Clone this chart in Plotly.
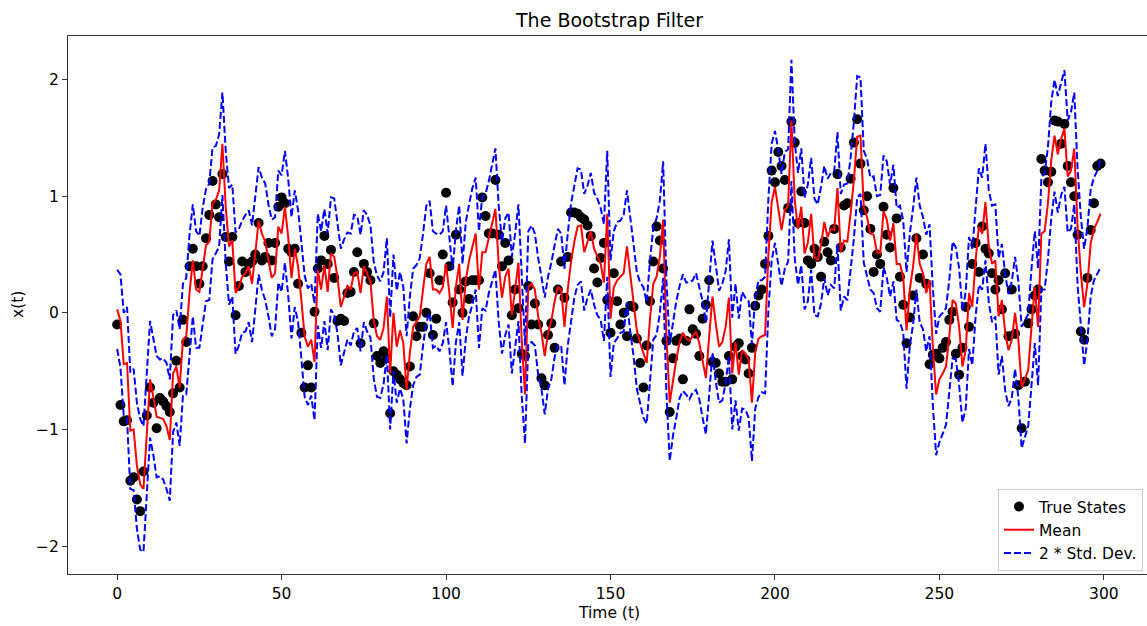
import plotly.graph_objects as go

# ---- data ----
time_steps = list(range(300))

true_states = [
    -0.10, -0.79, -0.93, -0.92, -1.44, -1.41, -1.60, -1.70, -1.36, -0.88,
    -0.64, -0.77, -0.99, -0.73, -0.76, -0.80, -0.85, -0.69, -0.41, -0.64,
    -0.06, -0.25, 0.40, 0.55, 0.40, 0.25, 0.40, 0.64, 0.84, 1.13,
    0.93, 0.82, 1.19, 0.65, 0.44, 0.65, -0.02, 0.23, 0.44, 0.35,
    0.42, 0.44, 0.50, 0.77, 0.45, 0.48, 0.60, 0.45, 0.60, 0.91,
    0.99, 0.94, 0.55, 0.52, 0.55, 0.25, -0.17, -0.64, -0.45, -0.64,
    0.01, 0.38, 0.45, 0.66, 0.42, 0.54, 0.30, -0.07, -0.05, -0.07,
    0.17, 0.18, 0.35, 0.52, -0.26, 0.42, 0.35, 0.28, -0.09, -0.37,
    -0.43, -0.33, -0.39, -0.86, -0.50, -0.53, -0.57, -0.60, -0.62, -0.46,
    -0.03, -0.20, -0.12, -0.12, 0.00, 0.34, -0.19, -0.05, 0.28, 0.50,
    1.03, 0.40, 0.09, 0.67, 0.20, 0.00, 0.27, 0.12, 0.28, 0.28,
    0.28, 0.99, 0.83, 0.68, 0.68, 1.14, 0.67, 0.40, 0.60, 0.45,
    -0.02, 0.20, 0.04, -0.35, -0.37, 0.23, -0.10, 0.08, -0.10, -0.56,
    -0.62, -0.19, -0.09, -0.30, 0.20, 0.44, 0.13, 0.48, 0.86, 0.86,
    0.85, 0.82, 0.80, 0.75, 0.66, 0.38, 0.26, 0.47, 0.60, 0.11,
    -0.17, 0.34, 0.10, -0.10, 0.00, -0.20, 0.06, 0.05, -0.22, -0.43,
    -0.64, -0.28, 0.10, 0.44, 0.74, 0.62, 0.38, -0.24, -0.85, -0.39,
    -0.24, -0.22, -0.57, -0.24, 0.03, -0.14, -0.18, -0.37, -0.05, 0.07,
    0.28, -0.42, -0.43, -0.52, -0.59, -0.59, -0.37, -0.57, -0.29, -0.26,
    -0.37, -0.40, -0.52, -0.30, 0.06, 0.15, 0.20, 0.42, 0.66, 1.22,
    1.12, 1.38, 1.26, 1.14, 0.90, 1.64, 1.46, 0.77, 1.04, 0.77,
    0.45, 0.42, 0.55, 0.48, 0.31, 0.61, 0.52, 0.45, 0.72, 1.19,
    0.56, 0.92, 0.94, 1.15, 1.46, 1.66, 1.28, 0.88, 1.00, 0.72,
    0.35, 0.50, 0.42, 0.91, 0.67, 0.56, 1.07, 0.81, 0.31, 0.07,
    -0.26, -0.04, 0.15, 0.64, 0.30, 0.50, 0.25, -0.44, -0.36, -0.35,
    -0.39, -0.30, -0.25, -0.06, 0.01, -0.35, -0.53, -0.30, 0.05, -0.12,
    0.42, 0.60, 0.35, 0.74, 0.55, 0.51, 0.34, 0.20, 0.28, 0.03,
    0.34, -0.20, 0.20, -0.18, -0.62, -0.99, -0.59, -0.09, 0.03, 0.15,
    0.20, 1.32, 1.22, 1.12, 1.21, 1.65, 1.64, 1.45, 1.62, 1.26,
    1.12, 1.00, 0.67, -0.16, -0.23, 0.30, 0.71, 0.94, 1.26, 1.28,
]

mean_est = [
    0.03, -0.07, -0.44, -0.43, -1.01, -1.00, -1.31, -1.47, -1.51, -1.05,
    -0.57, -0.72, -0.89, -0.90, -0.91, -0.97, -1.09, -0.52, -0.46, -0.64,
    -0.23, -0.20, 0.17, 0.45, 0.20, 0.18, 0.40, 0.58, 0.61, 0.94,
    0.97, 1.05, 1.45, 0.91, 0.57, 0.62, 0.17, 0.22, 0.31, 0.34,
    0.40, 0.25, 0.51, 0.79, 0.68, 0.61, 0.45, 0.30, 0.34, 0.74,
    0.68, 0.91, 0.65, 0.30, 0.55, 0.40, 0.11, -0.20, -0.29, -0.23,
    -0.42, 0.37, 0.20, 0.41, 0.18, 0.51, 0.48, 0.30, 0.05, 0.15,
    0.23, 0.20, 0.34, 0.35, 0.17, 0.40, 0.34, 0.27, -0.06, -0.20,
    -0.23, -0.13, 0.14, -0.52, 0.00, -0.29, -0.15, -0.26, -0.66, -0.34,
    -0.12, -0.07, -0.03, 0.20, 0.42, 0.48, 0.20, 0.20, 0.17, 0.22,
    0.42, 0.17, -0.13, 0.23, 0.42, -0.06, 0.28, 0.45, 0.57, 0.68,
    0.20, 0.52, 0.52, 0.65, 0.77, 0.89, 0.42, 0.13, 0.31, 0.38,
    -0.02, 0.20, 0.43, -0.23, -0.70, 0.22, 0.25, 0.20, -0.03, -0.17,
    -0.37, -0.17, -0.07, 0.10, 0.22, 0.20, -0.12, 0.20, 0.44, 0.61,
    0.74, 0.75, 0.52, 0.61, 0.70, 0.55, 0.48, 0.42, 0.26, 0.85,
    -0.05, 0.22, 0.28, 0.31, 0.34, 0.57, 0.34, 0.11, -0.15, -0.26,
    -0.34, -0.43, -0.05, 0.25, 0.31, 0.48, 0.80, -0.20, -0.77, -0.57,
    -0.40, -0.25, -0.17, -0.22, -0.24, -0.20, -0.16, -0.26, -0.40, -0.56,
    -0.20, 0.14, -0.09, -0.29, -0.25, -0.12, 0.13, -0.52, -0.25, -0.53,
    -0.32, -0.35, -0.40, -0.77, -0.34, -0.22, -0.20, -0.19, 0.50, 0.95,
    1.08, 0.90, 0.71, 0.88, 0.92, 1.65, 0.97, 0.72, 0.91, 0.51,
    0.60, 0.85, 0.48, 0.45, 0.58, 0.78, 0.65, 0.72, 0.71, 1.07,
    0.52, 0.62, 0.61, 0.85, 1.14, 1.51, 1.52, 0.91, 0.82, 0.68,
    0.67, 0.52, 0.51, 0.87, 0.80, 0.62, 0.77, 0.42, 0.42, 0.31,
    -0.15, 0.20, 0.40, 0.68, 0.42, 0.34, 0.17, 0.28, -0.29, -0.70,
    -0.57, -0.52, -0.46, -0.20, 0.11, 0.08, -0.12, -0.46, -0.32, 0.17,
    0.05, 0.45, 0.74, 0.68, 0.95, 0.57, 0.42, 0.45, -0.03, 0.11,
    -0.17, -0.32, -0.23, 0.00, -0.23, -0.64, -0.57, -0.49, -0.12, 0.22,
    -0.12, 0.68, 0.70, 0.94, 1.31, 1.52, 1.36, 1.49, 1.58, 1.17,
    1.22, 1.41, 0.74, 0.34, 0.05, 0.25, 0.60, 0.72, 0.78, 0.85,
]

std_dev = [
    0.17, 0.20, 0.22, 0.24, 0.25, 0.26, 0.27, 0.28, 0.27, 0.26,
    0.25, 0.25, 0.26, 0.25, 0.26, 0.27, 0.26, 0.25, 0.24, 0.25,
    0.24, 0.25, 0.25, 0.24, 0.25, 0.24, 0.25, 0.24, 0.25, 0.24,
    0.23, 0.24, 0.22, 0.24, 0.25, 0.24, 0.26, 0.25, 0.24, 0.25,
    0.24, 0.25, 0.24, 0.23, 0.24, 0.25, 0.24, 0.25, 0.24, 0.24,
    0.25, 0.24, 0.25, 0.26, 0.25, 0.24, 0.25, 0.26, 0.25, 0.24,
    0.25, 0.24, 0.25, 0.24, 0.25, 0.24, 0.25, 0.24, 0.25, 0.24,
    0.23, 0.24, 0.25, 0.24, 0.25, 0.24, 0.25, 0.24, 0.25, 0.26,
    0.25, 0.24, 0.25, 0.24, 0.25, 0.24, 0.25, 0.24, 0.23, 0.24,
    0.25, 0.24, 0.25, 0.24, 0.25, 0.24, 0.25, 0.24, 0.25, 0.24,
    0.25, 0.24, 0.25, 0.24, 0.25, 0.24, 0.25, 0.24, 0.25, 0.24,
    0.25, 0.24, 0.25, 0.24, 0.25, 0.26, 0.25, 0.24, 0.25, 0.24,
    0.25, 0.24, 0.25, 0.24, 0.21, 0.24, 0.25, 0.24, 0.25, 0.24,
    0.25, 0.24, 0.25, 0.24, 0.25, 0.24, 0.25, 0.24, 0.25, 0.24,
    0.25, 0.24, 0.25, 0.24, 0.25, 0.24, 0.25, 0.24, 0.25, 0.27,
    0.25, 0.24, 0.25, 0.24, 0.25, 0.24, 0.25, 0.24, 0.25, 0.26,
    0.28, 0.26, 0.25, 0.24, 0.25, 0.24, 0.25, 0.24, 0.25, 0.24,
    0.25, 0.24, 0.25, 0.24, 0.25, 0.24, 0.25, 0.24, 0.25, 0.24,
    0.25, 0.24, 0.25, 0.24, 0.25, 0.24, 0.25, 0.24, 0.25, 0.24,
    0.25, 0.24, 0.25, 0.25, 0.24, 0.25, 0.24, 0.25, 0.24, 0.25,
    0.24, 0.25, 0.24, 0.25, 0.24, 0.26, 0.25, 0.24, 0.25, 0.24,
    0.25, 0.24, 0.25, 0.24, 0.25, 0.24, 0.25, 0.24, 0.25, 0.24,
    0.25, 0.24, 0.25, 0.24, 0.25, 0.26, 0.25, 0.24, 0.25, 0.24,
    0.25, 0.24, 0.25, 0.24, 0.25, 0.24, 0.25, 0.24, 0.25, 0.24,
    0.25, 0.24, 0.25, 0.24, 0.25, 0.24, 0.25, 0.24, 0.25, 0.26,
    0.27, 0.26, 0.25, 0.24, 0.25, 0.24, 0.25, 0.24, 0.25, 0.24,
    0.25, 0.24, 0.25, 0.24, 0.25, 0.24, 0.25, 0.24, 0.25, 0.24,
    0.25, 0.24, 0.25, 0.24, 0.25, 0.26, 0.25, 0.24, 0.25, 0.24,
    0.25, 0.24, 0.25, 0.24, 0.25, 0.24, 0.25, 0.24, 0.25, 0.24,
    0.25, 0.24, 0.25, 0.24, 0.25, 0.24, 0.23, 0.22, 0.22, 0.23,
]

y_tick_vals = [-2, -1, 0, 1, 2]
y_tick_text = ["\u22122", "\u22121", "0", "1", "2"]
x_tick_vals = [0, 50, 100, 150, 200, 250, 300]

upper = [m + 2 * s for m, s in zip(mean_est, std_dev)]
lower = [m - 2 * s for m, s in zip(mean_est, std_dev)]

FONT = "DejaVu Sans"
TICK_SIZE = 15.5
TITLE_SIZE = 19

fig = go.Figure()
fig.add_trace(go.Scatter(
    x=time_steps, y=true_states, mode="markers", name="True States",
    marker=dict(color="black", size=10, line=dict(width=0)),
))
fig.add_trace(go.Scatter(
    x=time_steps, y=mean_est, mode="lines", name="Mean",
    line=dict(color="#ff0000", width=2),
))
fig.add_trace(go.Scatter(
    x=time_steps, y=upper, mode="lines", name="2 * Std. Dev.",
    legendgroup="std", line=dict(color="#0000ff", width=2, dash="7px,3px"),
))
fig.add_trace(go.Scatter(
    x=time_steps, y=lower, mode="lines", name="2 * Std. Dev.",
    legendgroup="std", showlegend=False,
    line=dict(color="#0000ff", width=2, dash="7px,3px"),
))

L, T, B = 68, 36, 52
W, H = 1147, 626
plot_w = W - L
plot_h = H - T - B
px_per_unit = 3.289
x0 = -14.95
x1 = x0 + plot_w / px_per_unit

def px_to_paper_x(px):
    return (px - L) / plot_w

def py_to_paper_y(py):
    return (H - B - py) / plot_h

fig.update_layout(
    width=W, height=H,
    margin=dict(l=L, r=0, t=T, b=B, pad=0),
    paper_bgcolor="white", plot_bgcolor="white",
    font=dict(family=FONT, size=TICK_SIZE, color="black"),
    showlegend=True,
    legend=dict(
        x=px_to_paper_x(1143), y=py_to_paper_y(489),
        xanchor="right", yanchor="top",
        bgcolor="rgba(255,255,255,0.8)", bordercolor="#cccccc", borderwidth=1,
        font=dict(family=FONT, size=TICK_SIZE, color="black"),
        tracegroupgap=0,
    ),
    xaxis=dict(
        range=[x0, x1], tickvals=x_tick_vals, showgrid=False, zeroline=False,
        showline=True, linecolor="#333333", linewidth=1, mirror=True,
        ticks="outside", ticklen=5, tickcolor="#333333",
        tickfont=dict(family=FONT, size=TICK_SIZE, color="black"),
    ),
    yaxis=dict(
        range=[-2.239, 2.374], tickvals=y_tick_vals, ticktext=y_tick_text,
        showgrid=False, zeroline=False,
        showline=True, linecolor="#333333", linewidth=1, mirror=False,
        ticks="outside", ticklen=5, tickcolor="#333333",
        tickfont=dict(family=FONT, size=TICK_SIZE, color="black"),
    ),
    annotations=[
        dict(text="The Bootstrap Filter", xref="paper", yref="paper",
             x=px_to_paper_x(609), y=py_to_paper_y(20), xanchor="center", yanchor="middle",
             showarrow=False, font=dict(family=FONT, size=TITLE_SIZE, color="black")),
        dict(text="Time (t)", xref="paper", yref="paper",
             x=px_to_paper_x(609), y=py_to_paper_y(613), xanchor="center", yanchor="middle",
             showarrow=False, font=dict(family=FONT, size=TICK_SIZE, color="black")),
        dict(text="x(t)", xref="paper", yref="paper",
             x=px_to_paper_x(18), y=py_to_paper_y(305), xanchor="center", yanchor="middle",
             textangle=-90, showarrow=False, font=dict(family=FONT, size=TICK_SIZE, color="black")),
    ],
)

fig.write_html("out.html")
